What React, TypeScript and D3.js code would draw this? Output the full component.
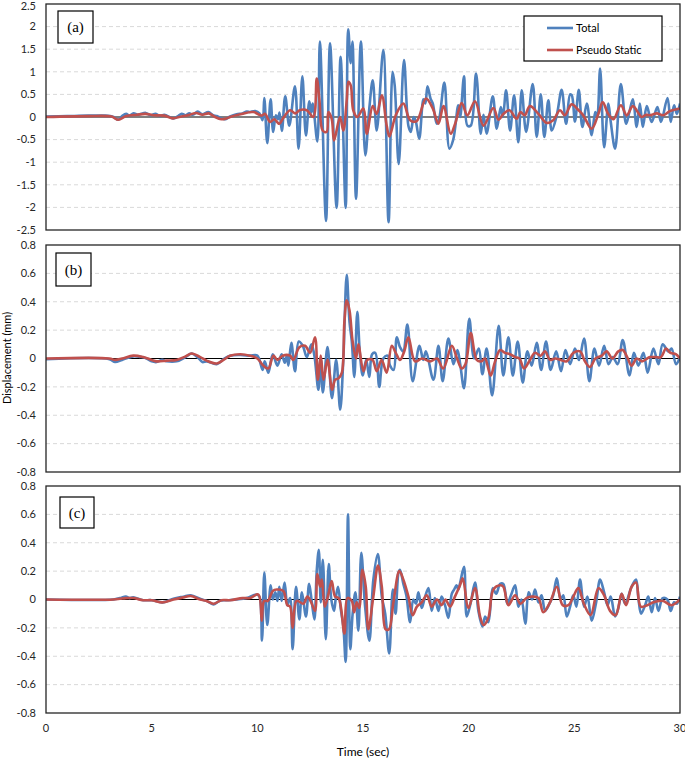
import React from "react";
import * as d3 from "d3";

type P = [number, number];

// ---- Panel (a) ----
const totalA: P[] = [[0,0.01],[1,0.02],[2,0.03],[2.8,0.03],[3.2,0.0],[3.42,-0.06],[3.6,0.02],[3.79,0.07],[3.95,0.03],[4.14,0.08],[4.35,0.05],[4.72,0.09],[4.95,0.04],[5.19,0.07],[5.4,0.02],[5.6,0.05],[6.03,-0.03],[6.25,0.02],[6.42,0.07],[6.6,0.04],[6.78,0.08],[6.95,0.05],[7.18,0.12],[7.4,0.06],[7.68,0.11],[7.9,0.04],[8.08,0.02],[8.3,-0.03],[8.47,-0.05],[8.71,0.01],[9.02,0.06],[9.3,0.08],[9.5,0.12],[9.65,0.11],[9.9,0.13],[10.1,0.08],[10.25,-0.07],[10.33,0.42],[10.47,-0.58],[10.63,0.39],[10.75,-0.33],[10.88,0.04],[10.98,-0.05],[11.05,0.1],[11.16,-0.31],[11.32,0.46],[11.51,-0.19],[11.78,0.68],[11.95,-0.7],[12.13,0.9],[12.3,-0.41],[12.46,0.35],[12.55,0.1],[12.62,0.3],[12.84,-0.54],[12.96,1.67],[13.25,-2.3],[13.44,1.63],[13.75,-2.01],[13.94,1.33],[14.18,-2.01],[14.3,1.94],[14.42,1.19],[14.5,1.67],[14.67,-1.81],[14.9,1.67],[15.11,-0.85],[15.3,0.2],[15.46,0.81],[15.65,-0.3],[15.96,1.48],[16.21,-2.33],[16.4,1.0],[16.5,0.7],[16.69,-1.04],[16.94,1.26],[17.15,-0.2],[17.26,-0.33],[17.4,0.0],[17.5,-0.1],[17.66,-0.48],[17.86,0.39],[17.95,0.3],[18.05,0.68],[18.2,0.4],[18.3,0.3],[18.49,-0.15],[18.6,-0.05],[18.85,0.76],[19.09,-0.7],[19.27,-0.5],[19.51,0.26],[19.6,0.0],[19.78,0.9],[19.94,-0.19],[20.1,-0.19],[20.35,0.96],[20.57,-0.37],[20.7,0.05],[20.85,-0.37],[21.14,0.46],[21.33,-0.26],[21.52,0.22],[21.62,0.0],[21.77,0.59],[21.96,-0.3],[22.15,0.48],[22.35,-0.56],[22.51,0.59],[22.72,-0.33],[23.03,0.73],[23.22,-0.44],[23.41,0.5],[23.58,-0.44],[23.77,0.37],[23.93,-0.3],[24.17,0.04],[24.4,0.6],[24.61,-0.15],[24.8,0.5],[24.88,0.48],[25.03,-0.1],[25.21,0.6],[25.38,-0.22],[25.59,0.3],[25.82,-0.4],[25.99,0.11],[26.08,0.0],[26.22,1.07],[26.41,-0.67],[26.61,0.3],[26.72,-0.1],[26.93,-0.7],[27.2,0.73],[27.45,-0.15],[27.6,0.1],[27.77,0.39],[27.95,-0.22],[28.1,0.3],[28.24,-0.22],[28.43,0.24],[28.66,-0.11],[28.93,0.22],[29.1,-0.11],[29.41,0.42],[29.56,-0.11],[29.72,0.26],[29.85,0.07],[30,0.3]];
const pseudoA: P[] = [[0,0.0],[2,0.02],[3.1,0.01],[3.42,-0.06],[3.8,0.02],[4.3,0.05],[4.7,0.07],[5.1,0.04],[5.6,0.03],[6.0,-0.03],[6.3,0.0],[6.8,0.05],[7.1,0.09],[7.4,0.05],[7.7,0.08],[8.0,0.0],[8.3,-0.05],[8.5,-0.04],[8.71,0.0],[9.2,0.06],[9.81,0.11],[10.2,0.03],[10.36,0.07],[10.6,-0.11],[10.8,-0.05],[11.04,-0.15],[11.23,-0.02],[11.55,0.15],[11.8,0.08],[12.0,0.15],[12.34,0.15],[12.65,0.0],[12.81,0.85],[12.94,0.37],[13.09,-0.3],[13.28,-0.33],[13.36,0.11],[13.52,-0.04],[13.63,-0.52],[13.91,0.0],[14.07,-0.3],[14.23,0.37],[14.31,0.78],[14.42,0.7],[14.54,0.15],[14.73,0.0],[15.02,0.19],[15.18,-0.37],[15.46,0.24],[15.65,0.07],[15.89,0.48],[16.12,-0.19],[16.25,-0.43],[16.55,0.04],[16.91,0.3],[17.23,-0.07],[17.54,-0.09],[17.98,0.41],[18.3,0.19],[18.57,-0.15],[18.81,0.24],[19.15,-0.37],[19.36,-0.15],[19.67,0.31],[19.94,0.04],[20.3,0.35],[20.7,-0.19],[21.17,0.2],[21.41,-0.06],[21.65,0.07],[21.93,0.15],[22.27,-0.04],[22.45,0.11],[22.65,0.04],[22.9,0.24],[23.3,0.07],[23.69,-0.13],[24.0,-0.07],[24.32,0.15],[24.55,0.04],[24.87,0.28],[25.18,0.16],[25.42,0.04],[25.82,-0.26],[26.14,0.07],[26.34,0.33],[26.6,0.07],[26.85,-0.05],[27.2,0.26],[27.48,0.04],[27.77,0.24],[28.19,0.0],[28.4,0.05],[28.58,0.04],[28.9,0.08],[29.21,0.04],[29.52,0.13],[30,0.19]];

// ---- Panel (b) ----
const totalB: P[] = [[0,-0.005],[3.0,-0.005],[3.27,-0.025],[3.6,-0.01],[4.13,0.015],[4.5,0.01],[4.76,0.0],[5.0,-0.02],[5.24,-0.025],[5.5,-0.01],[5.71,-0.02],[6.18,-0.02],[6.6,0.01],[6.89,0.035],[7.2,0.005],[7.4,-0.025],[7.6,-0.02],[8.08,-0.04],[8.4,-0.005],[8.71,0.02],[9.2,0.025],[9.65,0.02],[10.0,0.02],[10.25,-0.08],[10.35,-0.02],[10.52,-0.1],[10.73,0.03],[10.95,-0.05],[11.15,0.03],[11.3,-0.03],[11.4,0.02],[11.47,-0.05],[11.61,0.11],[11.78,-0.09],[11.96,0.12],[12.15,0.09],[12.34,0.01],[12.56,0.1],[12.7,0.02],[12.89,-0.22],[13.0,0.0],[13.1,-0.24],[13.32,0.08],[13.53,-0.28],[13.73,-0.01],[13.92,-0.36],[14.07,0.0],[14.23,0.59],[14.36,0.26],[14.47,0.12],[14.59,-0.13],[14.73,0.33],[14.86,0.02],[14.99,-0.12],[15.15,-0.01],[15.3,-0.13],[15.43,0.03],[15.58,0.04],[15.77,-0.2],[15.96,0.0],[16.17,0.02],[16.28,-0.05],[16.45,-0.08],[16.6,0.15],[16.75,0.08],[16.9,0.05],[17.1,0.24],[17.35,-0.16],[17.67,0.09],[17.85,-0.01],[17.98,0.05],[18.33,-0.15],[18.57,0.09],[18.77,-0.16],[19.04,0.14],[19.28,-0.04],[19.47,0.06],[19.6,-0.04],[19.78,-0.21],[20.03,0.28],[20.26,0.0],[20.48,0.07],[20.65,-0.11],[20.85,0.07],[21.11,-0.26],[21.42,0.23],[21.64,-0.12],[21.88,0.15],[22.09,-0.12],[22.32,0.12],[22.56,-0.17],[22.78,0.05],[22.98,-0.05],[23.22,0.11],[23.43,-0.08],[23.66,0.12],[23.88,-0.08],[24.14,0.05],[24.37,-0.09],[24.58,0.06],[24.8,-0.04],[25.03,0.07],[25.22,-0.01],[25.46,0.14],[25.71,-0.16],[25.95,0.07],[26.17,-0.05],[26.41,0.09],[26.62,-0.04],[26.82,0.01],[27.05,-0.04],[27.29,0.13],[27.61,-0.12],[27.82,0.04],[28.03,-0.05],[28.27,0.04],[28.47,-0.1],[28.74,0.07],[28.98,-0.04],[29.18,0.1],[29.45,0.05],[29.6,0.07],[29.81,-0.04],[30,0.01]];
const pseudoB: P[] = [[0,0.0],[3.0,0.0],[3.27,-0.01],[3.6,0.0],[4.13,0.02],[4.6,0.01],[5.0,-0.01],[5.24,-0.02],[5.71,-0.015],[6.18,-0.01],[6.6,0.015],[6.89,0.035],[7.3,0.01],[7.6,-0.015],[8.08,-0.035],[8.4,-0.01],[8.71,0.02],[9.2,0.03],[9.65,0.02],[10.0,0.0],[10.28,-0.05],[10.52,-0.07],[10.76,0.02],[10.95,-0.01],[11.2,0.02],[11.55,0.02],[11.7,-0.01],[11.99,0.08],[12.26,0.09],[12.5,0.04],[12.73,0.15],[12.86,-0.15],[13.0,0.02],[13.13,-0.15],[13.32,-0.01],[13.54,-0.22],[13.68,-0.15],[13.84,-0.14],[14.0,-0.1],[14.12,0.26],[14.23,0.41],[14.36,0.34],[14.51,0.12],[14.67,0.0],[14.78,0.1],[15.02,-0.09],[15.2,-0.01],[15.45,-0.01],[15.65,-0.09],[15.88,-0.01],[16.12,-0.1],[16.36,0.09],[16.55,0.04],[16.75,-0.01],[16.95,0.05],[17.15,0.15],[17.46,-0.02],[17.8,0.0],[18.17,-0.02],[18.5,0.0],[18.8,-0.07],[19.2,0.09],[19.45,0.0],[19.67,-0.07],[19.85,-0.04],[20.1,0.18],[20.38,-0.01],[20.6,-0.02],[20.77,0.0],[21.04,-0.12],[21.25,-0.02],[21.49,0.06],[21.72,0.04],[21.95,0.03],[22.2,0.01],[22.4,0.0],[22.62,-0.07],[22.9,-0.01],[23.14,0.04],[23.4,0.02],[23.61,0.05],[23.85,-0.01],[24.1,0.0],[24.35,-0.01],[24.64,-0.02],[24.95,0.04],[25.27,0.05],[25.5,-0.02],[25.74,-0.06],[26.0,0.0],[26.3,0.02],[26.53,0.05],[26.8,0.0],[27.08,0.05],[27.29,0.06],[27.5,0.01],[27.71,-0.05],[27.95,0.0],[28.2,-0.02],[28.45,0.0],[28.58,0.01],[28.85,0.01],[29.1,0.01],[29.34,0.07],[29.55,0.04],[29.8,0.03],[30,0.0]];

// ---- Panel (c) ----
const totalC: P[] = [[0,0],[3.19,0],[3.5,0.01],[3.78,0.02],[3.95,0.01],[4.13,0.015],[4.6,-0.005],[5.0,-0.005],[5.5,-0.02],[5.75,-0.01],[6.03,0.005],[6.5,0.02],[6.85,0.03],[7.29,0.005],[7.6,-0.01],[7.92,-0.035],[8.2,-0.01],[8.55,-0.005],[9.02,0.0],[9.5,0.01],[9.97,0.035],[10.1,0.02],[10.22,-0.29],[10.33,0.19],[10.47,-0.18],[10.63,0.1],[10.73,0.0],[10.85,0.05],[10.95,-0.01],[11.04,0.09],[11.15,-0.01],[11.29,0.12],[11.42,-0.04],[11.55,0.01],[11.67,-0.35],[11.83,0.09],[11.99,-0.14],[12.11,0.05],[12.3,-0.12],[12.45,0.11],[12.58,-0.02],[12.7,-0.14],[12.81,0.2],[12.91,0.35],[13.0,-0.02],[13.1,0.28],[13.24,-0.28],[13.38,0.25],[13.5,0.0],[13.63,-0.08],[13.72,0.02],[13.82,0.09],[13.95,-0.07],[14.07,-0.19],[14.18,-0.44],[14.29,0.6],[14.4,-0.35],[14.51,-0.1],[14.64,0.05],[14.78,-0.22],[14.92,0.33],[15.1,-0.05],[15.3,-0.29],[15.49,0.14],[15.7,0.32],[15.89,0.02],[16.05,-0.1],[16.24,-0.38],[16.41,0.07],[16.54,-0.1],[16.68,0.19],[16.75,0.21],[16.91,0.11],[17.05,0.03],[17.23,-0.16],[17.38,0.0],[17.51,-0.03],[17.62,0.05],[17.78,-0.06],[17.92,0.01],[18.1,0.08],[18.25,-0.08],[18.4,0.01],[18.57,-0.08],[18.72,0.02],[18.88,-0.04],[19.04,-0.13],[19.2,0.04],[19.31,0.07],[19.43,0.1],[19.51,0.07],[19.6,0.12],[19.78,0.23],[19.91,-0.12],[20.1,-0.02],[20.3,0.12],[20.46,-0.08],[20.65,-0.19],[20.78,-0.12],[20.93,-0.16],[21.14,0.08],[21.3,0.04],[21.49,0.11],[21.64,0.11],[21.83,-0.03],[22.0,0.03],[22.2,0.1],[22.35,-0.05],[22.5,0.0],[22.68,-0.17],[22.84,0.05],[23.0,0.0],[23.14,0.07],[23.3,-0.02],[23.45,0.03],[23.62,-0.08],[23.85,-0.02],[24.0,0.03],[24.17,0.15],[24.35,0.0],[24.48,0.03],[24.64,-0.12],[24.8,-0.05],[24.95,0.03],[25.1,-0.05],[25.27,0.14],[25.46,-0.05],[25.62,0.02],[25.82,-0.15],[26.02,-0.03],[26.22,0.14],[26.41,0.05],[26.57,-0.04],[26.72,0.02],[26.93,-0.12],[27.08,-0.06],[27.24,0.04],[27.4,-0.03],[27.71,0.09],[27.92,0.14],[28.03,0.01],[28.16,-0.1],[28.35,-0.04],[28.5,0.02],[28.66,-0.09],[28.82,0.01],[28.98,-0.08],[29.18,0.01],[29.4,0.0],[29.56,-0.08],[29.72,-0.02],[29.85,-0.03],[30,0.02]];
const pseudoC: P[] = [[0,0],[3.19,0],[3.5,0.005],[3.78,0.01],[4.13,0.01],[4.6,-0.005],[5.0,-0.005],[5.5,-0.02],[6.03,0.0],[6.5,0.015],[6.85,0.025],[7.29,0.0],[7.6,-0.01],[7.92,-0.03],[8.3,-0.005],[8.71,-0.005],[9.3,0.01],[9.65,0.01],[10.05,0.035],[10.21,-0.15],[10.32,-0.01],[10.5,-0.01],[10.73,0.06],[10.92,0.07],[11.23,0.06],[11.42,-0.04],[11.55,-0.05],[11.67,-0.2],[11.86,-0.01],[12.18,-0.03],[12.37,0.02],[12.55,-0.02],[12.73,-0.08],[12.84,0.18],[12.97,0.09],[13.05,0.14],[13.19,-0.05],[13.36,0.035],[13.52,0.13],[13.68,0.02],[13.85,0.01],[14.12,-0.24],[14.26,0.01],[14.47,-0.01],[14.58,-0.09],[14.7,-0.02],[14.82,-0.06],[14.97,0.21],[15.13,0.09],[15.25,-0.21],[15.49,0.02],[15.71,0.24],[15.89,0.09],[16.07,-0.21],[16.23,-0.21],[16.44,-0.02],[16.72,0.2],[16.91,0.14],[17.15,0.02],[17.35,-0.11],[17.55,-0.05],[17.78,-0.02],[18.02,0.03],[18.25,-0.05],[18.5,0.0],[18.72,-0.04],[18.9,0.0],[19.12,-0.05],[19.35,0.02],[19.59,0.1],[19.72,0.15],[19.99,-0.06],[20.3,0.08],[20.54,-0.12],[20.7,-0.18],[20.93,-0.13],[21.17,0.07],[21.49,0.1],[21.64,0.09],[21.88,-0.04],[22.2,0.03],[22.45,-0.03],[22.73,0.01],[23.0,0.02],[23.3,0.01],[23.53,-0.09],[23.85,-0.02],[24.17,0.09],[24.45,-0.04],[24.72,-0.04],[24.95,0.02],[25.19,0.08],[25.45,-0.03],[25.77,-0.11],[26.14,0.08],[26.41,0.03],[26.69,-0.08],[26.96,-0.11],[27.24,0.04],[27.45,-0.04],[27.71,0.09],[27.92,0.12],[28.14,-0.05],[28.45,-0.04],[28.74,-0.02],[29.0,-0.01],[29.21,-0.01],[29.6,-0.04],[30,0.0]];

const xTicks = [0, 5, 10, 15, 20, 25, 30];
const yTicksA = [-2.5, -2, -1.5, -1, -0.5, 0, 0.5, 1, 1.5, 2, 2.5];
const yTicksBC = [-0.8, -0.6, -0.4, -0.2, 0, 0.2, 0.4, 0.6, 0.8];
const panelLabels = ["(a)", "(b)", "(c)"];
const seriesNames = ["Total", "Pseudo Static"];

const W = 685, H = 759;
const X0 = 46, X1 = 680;
const BLUE = "#4f81bd", RED = "#c0504d";
const SANS = "Lato, 'Open Sans', 'DejaVu Sans', sans-serif";
const SERIF = "'Liberation Serif', 'DejaVu Serif', serif";

const panels = [
  { top: 4, bottom: 230, dom: [-2.5, 2.5], ticks: yTicksA, total: totalA, pseudo: pseudoA, label: panelLabels[0], box: [58, 11, 35, 32] },
  { top: 245, bottom: 472, dom: [-0.8, 0.8], ticks: yTicksBC, total: totalB, pseudo: pseudoB, label: panelLabels[1], box: [56, 253, 35, 33] },
  { top: 486, bottom: 713, dom: [-0.8, 0.8], ticks: yTicksBC, total: totalC, pseudo: pseudoC, label: panelLabels[2], box: [60, 497, 34, 31] },
];

const fmt = (v: number) => String(Math.round(v * 10) / 10);

export default function App() {
  const x = d3.scaleLinear().domain([0, 30]).range([X0, X1]);
  return (
    <svg width={W} height={H} style={{ position: "absolute", left: 0, top: 0, background: "#fff" }}>
      <rect x={0} y={0} width={W} height={H} fill="#fff" />
      {panels.map((p, i) => {
        const y = d3.scaleLinear().domain(p.dom as [number, number]).range([p.bottom, p.top]);
        const line = d3
          .line<P>()
          .x((d) => x(d[0]))
          .y((d) => y(d[1]))
          .curve(d3.curveCatmullRom.alpha(0.5));
        const clipId = `clip${i}`;
        return (
          <g key={i}>
            <defs>
              <clipPath id={clipId}>
                <rect x={X0} y={p.top} width={X1 - X0} height={p.bottom - p.top} />
              </clipPath>
            </defs>
            {p.ticks.map((t) =>
              t === 0 || t === p.dom[0] || t === p.dom[1] ? null : (
                <line key={t} x1={X0} x2={X1} y1={y(t)} y2={y(t)} stroke="#d9d9d9" strokeWidth={1} strokeDasharray="4,3" />
              )
            )}
            {p.ticks.map((t) => (
              <text key={"l" + t} x={36} y={Math.max(y(t), 6)} dy="0.35em" textAnchor="end" fontFamily={SANS} fontSize={11} fill="#262626">
                {fmt(t)}
              </text>
            ))}
            <line x1={X0} x2={X1} y1={y(0)} y2={y(0)} stroke="#000" strokeWidth={1.2} />
            <g clipPath={`url(#${clipId})`}>
              <path d={line(p.total) || ""} fill="none" stroke={BLUE} strokeWidth={2.6} strokeLinejoin="round" />
              <path d={line(p.pseudo) || ""} fill="none" stroke={RED} strokeWidth={2.6} strokeLinejoin="round" />
            </g>
            <rect x={X0} y={p.top} width={X1 - X0} height={p.bottom - p.top} fill="none" stroke="#262626" strokeWidth={1.3} />
            <rect x={p.box[0]} y={p.box[1]} width={p.box[2]} height={p.box[3]} fill="#fff" stroke="#000" strokeWidth={1.2} />
            <text x={p.box[0] + p.box[2] / 2} y={p.box[1] + p.box[3] / 2} dy="0.35em" textAnchor="middle" fontFamily={SERIF} fontSize={15} fill="#000">
              {p.label}
            </text>
          </g>
        );
      })}
      <g>
        <rect x={524} y={16} width={138} height={45} fill="#fff" stroke="#000" strokeWidth={1.2} />
        {seriesNames.map((n, i) => (
          <g key={n}>
            <line x1={547} x2={573} y1={28 + i * 22} y2={28 + i * 22} stroke={i === 0 ? BLUE : RED} strokeWidth={2.6} />
            <text x={576} y={28 + i * 22} dy="0.35em" fontFamily={SANS} fontSize={11} fill="#000">
              {n}
            </text>
          </g>
        ))}
      </g>
      {xTicks.map((t) => (
        <text key={t} x={x(t)} y={728} dy="0.35em" textAnchor="middle" fontFamily={SANS} fontSize={11} fill="#262626">
          {t}
        </text>
      ))}
      <text x={(X0 + X1) / 2} y={752} dy="0.35em" textAnchor="middle" fontFamily={SANS} fontSize={12} fill="#000">
        Time (sec)
      </text>
      <text transform={`translate(7,358) rotate(-90)`} dy="0.35em" textAnchor="middle" fontFamily={SANS} fontSize={11} fill="#000">
        Displacement (mm)
      </text>
    </svg>
  );
}
